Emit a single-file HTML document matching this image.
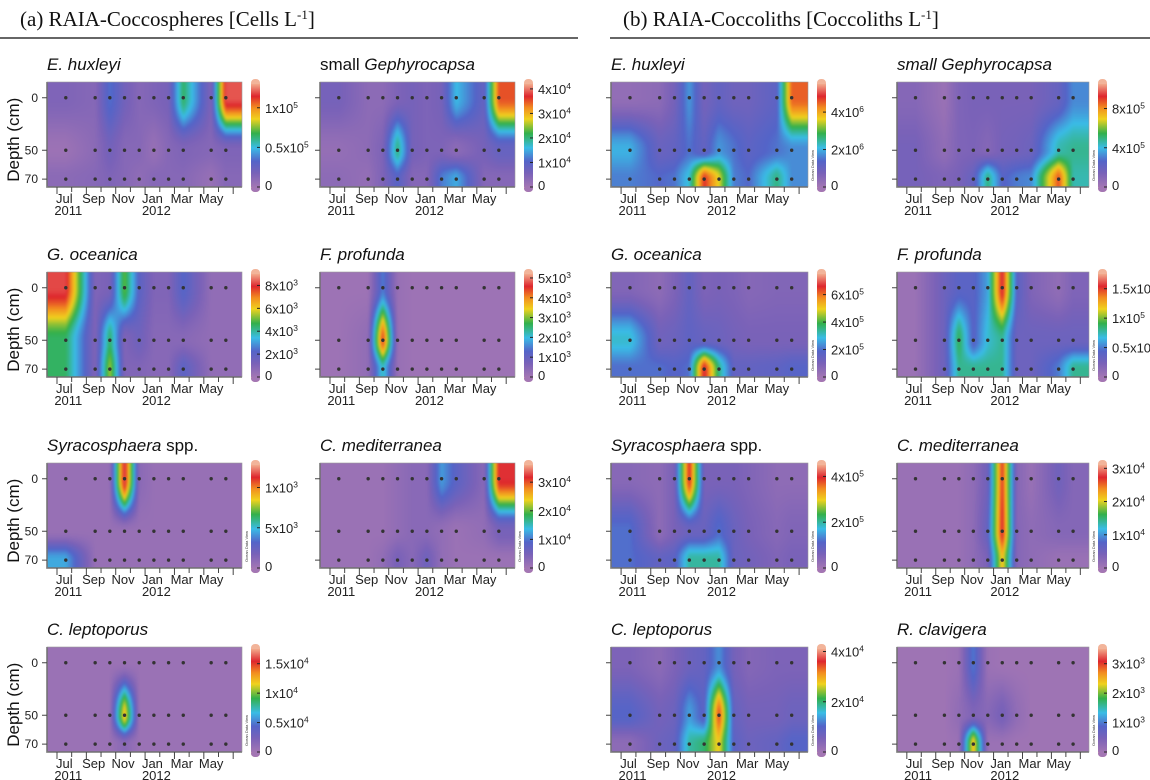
<!DOCTYPE html>
<html><head><meta charset="utf-8">
<style>
html,body{margin:0;padding:0;background:#fff;}
#root{position:relative;width:1150px;height:780px;overflow:hidden;background:#fff;font-family:"Liberation Sans",sans-serif;}
canvas{position:absolute;}
svg{position:absolute;left:0;top:0;}
</style></head>
<body>
<div id="root">
<svg id="ov" width="1150" height="780"></svg>
</div>
<script>
// ---- shared axes data ----
const sampleTimes = [0.6, 2.6, 3.6, 4.6, 5.6, 6.6, 7.6, 8.6, 10.5, 11.5];
const depthLevels = [0, 50, 70];
const monthLabels = ["Jul","Sep","Nov","Jan","Mar","May"];
const monthLabelTimes = [0.5, 2.5, 4.5, 6.5, 8.5, 10.5];
const yearLabels = ["2011","2012"];
const yearLabelTimes = [0.5, 6.5];

// ---- panel series (rows: depth 0, 50, 70) ----
const a1_d0 = [0.15,0.12,0.35,0.2,0.12,0.15,0.18,0.65,0.15,1.2];
const a1_d50 = [0.03,0.1,0.2,0.12,0.12,0.05,0.12,0.15,0.12,0.15];
const a1_d70 = [0.1,0.12,0.15,0.12,0.08,0.12,0.12,0.12,0.05,0.12];
const a1_ticks = [0,0.5,1]; const a1_labels = ["0","0.5x10^5","1x10^5"];

const a2_d0 = [0.6,0.3,0.3,0.5,0.6,0.5,0.6,1.6,0.8,3.5];
const a2_d50 = [0.2,0.3,0.5,2.0,0.6,0.5,0.5,0.3,0.6,0.8];
const a2_d70 = [0.3,0.2,0.5,1.0,0.4,0.4,1.2,1.5,0.4,0.4];
const a2_ticks = [0,1,2,3,4]; const a2_labels = ["0","1x10^4","2x10^4","3x10^4","4x10^4"];

const b1_d0 = [0.3,0.4,0.8,1.8,0.8,1.1,0.9,0.9,1.2,4.5];
const b1_d50 = [2.0,1.0,1.1,1.5,1.1,1.8,1.5,1.2,1.5,1.7];
const b1_d70 = [1.6,1.4,1.5,2.2,4.8,3.6,1.6,1.4,2.6,1.7];
const b1_ticks = [0,2,4]; const b1_labels = ["0","2x10^6","4x10^6"];

const b2_d0 = [1.0,0.3,1.2,1.4,1.4,1.4,1.4,1.4,2.0,3.2];
const b2_d50 = [1.5,0.6,1.2,1.3,1.0,1.5,1.6,1.8,4.5,4.8];
const b2_d70 = [1.5,1.2,1.4,2.0,5.0,2.5,3.0,3.2,8.8,4.5];
const b2_ticks = [0,4,8]; const b2_labels = ["0","4x10^5","8x10^5"];

const a3_d0 = [8.2,1.0,1.2,5.0,2.0,1.0,1.0,2.2,0.5,0.5];
const a3_d50 = [4.5,1.0,4.5,1.0,1.5,0.8,0.8,0.8,0.5,0.5];
const a3_d70 = [4.5,1.0,5.5,1.0,1.0,0.8,0.8,2.0,0.5,0.5];
const a3_ticks = [0,2,4,6,8]; const a3_labels = ["0","2x10^3","4x10^3","6x10^3","8x10^3"];

const a4_d0 = [0.1,0.1,1.5,0.2,0.1,0.1,0.1,0.1,0.1,0.1];
const a4_d50 = [0.1,0.3,4.5,0.2,0.1,0.1,0.1,0.1,0.1,0.1];
const a4_d70 = [0.1,0.3,2.2,0.2,0.1,0.1,0.1,0.1,0.1,0.1];
const a4_ticks = [0,1,2,3,4,5]; const a4_labels = ["0","1x10^3","2x10^3","3x10^3","4x10^3","5x10^3"];

const b3_d0 = [0.8,0.5,0.9,1.5,0.9,1.0,0.9,0.7,0.8,0.8];
const b3_d50 = [3.0,1.2,1.3,1.6,1.4,1.3,1.1,1.0,1.0,1.0];
const b3_d70 = [2.0,2.0,1.8,2.0,6.8,3.5,1.5,1.5,1.6,1.8];
const b3_ticks = [0,2,4,6]; const b3_labels = ["0","2x10^5","4x10^5","6x10^5"];

const b4_d0 = [0.05,0.3,0.4,0.4,0.6,1.6,0.4,0.2,0.1,0.2];
const b4_d50 = [0.05,0.3,0.9,0.4,0.7,0.8,0.3,0.3,0.3,0.3];
const b4_d70 = [0.05,0.3,0.8,0.8,0.8,0.8,0.3,0.3,0.5,0.8];
const b4_ticks = [0,0.5,1,1.5]; const b4_labels = ["0","0.5x10^5","1x10^5","1.5x10^5"];

const a5_d0 = [0.05,0.05,0.05,1.2,0.1,0.05,0.05,0.05,0.05,0.05];
const a5_d50 = [0.05,0.05,0.05,0.05,0.05,0.05,0.05,0.05,0.05,0.05];
const a5_d70 = [0.45,0.05,0.05,0.05,0.05,0.05,0.05,0.05,0.05,0.05];
const a5_ticks = [0,0.5,1]; const a5_labels = ["0","5x10^3","1x10^3"];

const a6_d0 = [0.1,0.1,0.1,0.2,0.3,0.3,1.2,0.8,0.3,3.2];
const a6_d50 = [0.1,0.1,0.1,0.2,0.3,0.3,0.2,0.1,0.2,0.5];
const a6_d70 = [0.1,0.1,0.2,0.5,0.3,0.6,0.2,0.1,0.1,0.1];
const a6_ticks = [0,1,2,3]; const a6_labels = ["0","1x10^4","2x10^4","3x10^4"];

const b5_d0 = [0.4,0.3,0.6,4.0,0.6,0.6,0.6,0.5,0.3,0.3];
const b5_d50 = [1.2,0.3,0.6,0.8,0.8,1.2,0.8,0.6,0.4,0.5];
const b5_d70 = [1.2,0.9,1.0,2.0,2.0,2.0,0.8,0.7,0.5,0.6];
const b5_ticks = [0,2,4]; const b5_labels = ["0","2x10^5","4x10^5"];

const b6_d0 = [0.1,0.1,0.1,0.2,0.5,2.7,0.3,0.1,0.5,0.3];
const b6_d50 = [0.1,0.1,0.1,0.2,0.6,2.8,0.3,0.2,0.3,0.3];
const b6_d70 = [0.1,0.1,0.1,0.2,0.4,2.2,0.3,0.2,0.1,0.1];
const b6_ticks = [0,1,2,3]; const b6_labels = ["0","1x10^4","2x10^4","3x10^4"];

const a7_d0 = [0.05,0.05,0.05,0.05,0.05,0.05,0.05,0.05,0.05,0.05];
const a7_d50 = [0.05,0.05,0.05,1.25,0.05,0.05,0.05,0.05,0.05,0.05];
const a7_d70 = [0.05,0.05,0.05,0.15,0.05,0.05,0.05,0.05,0.05,0.05];
const a7_ticks = [0,0.5,1,1.5]; const a7_labels = ["0","0.5x10^4","1x10^4","1.5x10^4"];

const b7_d0 = [0.5,0.3,0.5,0.7,0.8,1.3,0.6,0.4,0.5,0.5];
const b7_d50 = [1.0,0.6,0.7,1.4,0.9,3.5,0.8,0.6,0.6,0.7];
const b7_d70 = [0.3,0.7,0.8,1.8,2.0,2.8,0.9,0.7,0.8,1.0];
const b7_ticks = [0,2,4]; const b7_labels = ["0","2x10^4","4x10^4"];

const b8_d0 = [0.05,0.05,0.1,1.0,0.1,0.05,0.05,0.05,0.05,0.05];
const b8_d50 = [0.05,0.05,0.2,0.4,0.3,0.5,0.2,0.05,0.05,0.05];
const b8_d70 = [0.05,0.05,0.1,2.5,0.1,0.1,0.05,0.05,0.05,0.05];
const b8_ticks = [1,2,3,0]; const b8_labels = ["1x10^3","2x10^3","3x10^3","0"];

// ---- layout (not data) ----
const X = {A1:47, A2:320, B1:611, B2:897};
const W = {A1:195, A2:195, B1:197, B2:192};
const Y = [82, 272, 463, 647];
const H = 105;
const panels = [
 {id:"a-ehuxleyi", col:"A1", row:0, title:'<tspan font-style="italic">E. huxleyi</tspan>', rows:[a1_d0,a1_d50,a1_d70], vmax:1.3, ticks:a1_ticks, labels:a1_labels, depth:true},
 {id:"a-small-gephyrocapsa", col:"A2", row:0, title:'small <tspan font-style="italic">Gephyrocapsa</tspan>', rows:[a2_d0,a2_d50,a2_d70], vmax:4.2, ticks:a2_ticks, labels:a2_labels},
 {id:"b-ehuxleyi", col:"B1", row:0, title:'<tspan font-style="italic">E. huxleyi</tspan>', rows:[b1_d0,b1_d50,b1_d70], vmax:5.5, ticks:b1_ticks, labels:b1_labels},
 {id:"b-small-gephyrocapsa", col:"B2", row:0, title:'<tspan font-style="italic">small Gephyrocapsa</tspan>', rows:[b2_d0,b2_d50,b2_d70], vmax:10.5, ticks:b2_ticks, labels:b2_labels},
 {id:"a-goceanica", col:"A1", row:1, title:'<tspan font-style="italic">G. oceanica</tspan>', rows:[a3_d0,a3_d50,a3_d70], vmax:9, ticks:a3_ticks, labels:a3_labels, depth:true},
 {id:"a-fprofunda", col:"A2", row:1, title:'<tspan font-style="italic">F. profunda</tspan>', rows:[a4_d0,a4_d50,a4_d70], vmax:5.2, ticks:a4_ticks, labels:a4_labels},
 {id:"b-goceanica", col:"B1", row:1, title:'<tspan font-style="italic">G. oceanica</tspan>', rows:[b3_d0,b3_d50,b3_d70], vmax:7.5, ticks:b3_ticks, labels:b3_labels},
 {id:"b-fprofunda", col:"B2", row:1, title:'<tspan font-style="italic">F. profunda</tspan>', rows:[b4_d0,b4_d50,b4_d70], vmax:1.75, ticks:b4_ticks, labels:b4_labels},
 {id:"a-syracosphaera", col:"A1", row:2, title:'<tspan font-style="italic">Syracosphaera</tspan> spp.', rows:[a5_d0,a5_d50,a5_d70], vmax:1.28, ticks:a5_ticks, labels:a5_labels, depth:true},
 {id:"a-cmediterranea", col:"A2", row:2, title:'<tspan font-style="italic">C. mediterranea</tspan>', rows:[a6_d0,a6_d50,a6_d70], vmax:3.6, ticks:a6_ticks, labels:a6_labels},
 {id:"b-syracosphaera", col:"B1", row:2, title:'<tspan font-style="italic">Syracosphaera</tspan> spp.', rows:[b5_d0,b5_d50,b5_d70], vmax:4.5, ticks:b5_ticks, labels:b5_labels},
 {id:"b-cmediterranea", col:"B2", row:2, title:'<tspan font-style="italic">C. mediterranea</tspan>', rows:[b6_d0,b6_d50,b6_d70], vmax:3.1, ticks:b6_ticks, labels:b6_labels},
 {id:"a-cleptoporus", col:"A1", row:3, title:'<tspan font-style="italic">C. leptoporus</tspan>', rows:[a7_d0,a7_d50,a7_d70], vmax:1.75, ticks:a7_ticks, labels:a7_labels, depth:true},
 {id:"b-cleptoporus", col:"B1", row:3, title:'<tspan font-style="italic">C. leptoporus</tspan>', rows:[b7_d0,b7_d50,b7_d70], vmax:4.1, ticks:b7_ticks, labels:b7_labels},
 {id:"b-rclavigera", col:"B2", row:3, title:'<tspan font-style="italic">R. clavigera</tspan>', rows:[b8_d0,b8_d50,b8_d70], vmax:3.5, ticks:b8_ticks, labels:b8_labels}
];

const T_MIN = -0.68, T_MAX = 12.6;
const DEPTH_FRAC = [0.15, 0.65, 0.925];
const stops = [[0,[163,118,180]],[0.13,[122,98,184]],[0.25,[84,100,200]],[0.38,[58,188,230]],[0.52,[50,176,76]],[0.66,[240,210,30]],[0.77,[242,140,32]],[0.88,[222,38,45]],[1,[242,170,140]]];
function cmap(f){
  f=Math.max(0,Math.min(1,f));
  for(let i=1;i<stops.length;i++){
    if(f<=stops[i][0]){
      const a=stops[i-1],b=stops[i],u=(f-a[0])/(b[0]-a[0]);
      return [0,1,2].map(k=>Math.round(a[1][k]+(b[1][k]-a[1][k])*u));
    }
  }
  return stops[stops.length-1][1];
}
function smooth(u){return u*u*(3-2*u);}
function interp1(xs, vs, x, shape){
  if(x<=xs[0]) return vs[0];
  if(x>=xs[xs.length-1]) return vs[vs.length-1];
  for(let i=1;i<xs.length;i++){
    if(x<=xs[i]){let u=(x-xs[i-1])/(xs[i]-xs[i-1]); if(shape) u=shape(u); return vs[i-1]+(vs[i]-vs[i-1])*u;}
  }
}
function xScale(p,t){return p.x+(t-T_MIN)/(T_MAX-T_MIN)*p.w;}
function tInv(p,px){return T_MIN+px/p.w*(T_MAX-T_MIN);}
function yScale(p,d){return p.y+interp1(depthLevels,DEPTH_FRAC,d)*p.h;}

const NS="http://www.w3.org/2000/svg";
const ov=document.getElementById('ov');
const root=document.getElementById('root');
function el(tag,attrs,parent){const e=document.createElementNS(NS,tag);for(const k in attrs)e.setAttribute(k,attrs[k]);(parent||ov).appendChild(e);return e;}

const defs=el('defs',{});
const lg=el('linearGradient',{id:'cbg',x1:0,y1:1,x2:0,y2:0},defs);
stops.forEach(s=>{el('stop',{offset:s[0],'stop-color':'rgb('+s[1].join(',')+')'},lg);});

function header(x,y,txt,name){
  const t=el('text',{x:x,y:y,'font-family':'"Liberation Serif",serif','font-size':21,fill:'#111'});
  
  
  t.innerHTML=txt;
}
header(20,26,'(a)  RAIA-Coccospheres [Cells L<tspan font-size="13" dy="-7">-1</tspan><tspan dy="7">]</tspan>','header-a');
header(623,26,'(b)  RAIA-Coccoliths [Coccoliths L<tspan font-size="13" dy="-7">-1</tspan><tspan dy="7">]</tspan>','header-b');
const l1=el('line',{x1:0,y1:38,x2:578,y2:38,stroke:'#333','stroke-width':1.6});


const l2=el('line',{x1:610,y1:38,x2:1150,y2:38,stroke:'#333','stroke-width':1.6});



function labelText(g,x,y,s,size,anchor){
  const t=el('text',{x:x,y:y,'font-size':size,fill:'#222','text-anchor':anchor||'start'},g);
  const m=s.split('^');
  if(m.length>1){t.innerHTML=m[0]+'<tspan font-size="'+(size*0.65)+'" dy="-5">'+m[1]+'</tspan>';}
  else t.textContent=s;
  return t;
}

panels.forEach(p=>{
  p.x=X[p.col]; p.w=W[p.col]; p.y=Y[p.row]; p.h=H;
  const c=document.createElement('canvas');
  c.width=p.w; c.height=p.h;
  c.style.left=p.x+'px'; c.style.top=p.y+'px';
  
  
  root.insertBefore(c, ov);
  const ctx=c.getContext('2d');
  const off=document.createElement('canvas');
  const pad=8;
  off.width=p.w+2*pad; off.height=p.h+2*pad;
  const octx=off.getContext('2d');
  const img=octx.createImageData(off.width,off.height);
  const colVals=[];
  for(let px=0;px<off.width;px++){
    const t=tInv(p,px-pad+0.5);
    colVals.push(p.rows.map(r=>interp1(sampleTimes,r,t)));
  }
  for(let py=0;py<off.height;py++){
    const f=(py-pad+0.5)/p.h;
    for(let px=0;px<off.width;px++){
      const v=interp1(DEPTH_FRAC,colVals[px],f,smooth);
      const col=cmap(v/p.vmax);
      const i=(py*off.width+px)*4;
      img.data[i]=col[0];img.data[i+1]=col[1];img.data[i+2]=col[2];img.data[i+3]=255;
    }
  }
  octx.putImageData(img,0,0);
  ctx.filter='blur(1.2px)';
  ctx.drawImage(off,-pad,-pad);
  ctx.filter='none';

  const g=el('g',{'font-family':'"Liberation Sans",sans-serif'});
  
  
  const tt=el('text',{x:p.x,y:p.y-12,'font-size':17,fill:'#111'},g);
  
  
  tt.innerHTML=p.title;
  p.rows.forEach((r,ri)=>{
    sampleTimes.forEach(t=>{
      const d=el('circle',{cx:xScale(p,t),cy:yScale(p,depthLevels[ri]),r:1.7,fill:'#333'},g);
      
      
    });
  });
  const ax=el('path',{d:'M'+p.x+','+p.y+' V'+(p.y+p.h)+' H'+(p.x+p.w),stroke:'#555','stroke-width':1.5,fill:'none'},g);
  
  
  el('rect',{x:p.x,y:p.y,width:p.w,height:p.h,fill:'none',stroke:'#999','stroke-width':0.6},g);
  for(let m=0;m<=12;m++){
    const tx=xScale(p,m);
    el('line',{x1:tx,y1:p.y+p.h,x2:tx,y2:p.y+p.h+(m%2===0?7:5),stroke:'#444','stroke-width':1},g);
  }
  monthLabels.forEach((ml,i)=>{
    const t=el('text',{x:xScale(p,monthLabelTimes[i]),y:p.y+p.h+16,'font-size':13,fill:'#222','text-anchor':'middle'},g);
    
    
    t.textContent=ml;
  });
  yearLabels.forEach((yl,i)=>{
    const t=el('text',{x:xScale(p,yearLabelTimes[i])+4,y:p.y+p.h+28,'font-size':13,fill:'#222','text-anchor':'middle'},g);
    
    
    t.textContent=yl;
  });
  depthLevels.forEach(dv=>{
    const yy=yScale(p,dv);
    el('line',{x1:p.x-5,y1:yy,x2:p.x,y2:yy,stroke:'#444','stroke-width':1},g);
    if(p.depth){
      const t=el('text',{x:p.x-9,y:yy+4,'font-size':12,fill:'#222','text-anchor':'end'},g);
      
      
      t.textContent=String(dv);
    }
  });
  if(p.depth){
    const cy=p.y+p.h*0.55;
    const t=el('text',{x:0,y:0,'font-size':17,fill:'#111','text-anchor':'middle',transform:'translate(19,'+cy+') rotate(-90)'},g);
    
    
    t.textContent='Depth (cm)';
  }
  const cbx=p.x+p.w+9, cby=p.y+2, cbh=p.h-2, cbw=9;
  el('rect',{x:cbx,y:cby-5,width:cbw,height:cbh+10,rx:4,fill:'#f2b49a'},g);
  el('rect',{x:cbx,y:cby+cbh-2,width:cbw,height:7,rx:4,fill:'rgb(163,118,180)'},g);
  const cb=el('rect',{x:cbx,y:cby,width:cbw,height:cbh,fill:'url(#cbg)'},g);
  
  
  p.ticks.forEach((tv,i)=>{
    const yy=cby+cbh-(tv/p.vmax)*cbh;
    el('line',{x1:cbx+cbw-3,y1:yy,x2:cbx+cbw,y2:yy,stroke:'#222','stroke-width':1},g);
    const t=labelText(g,cbx+cbw+5,yy+(tv===0?3:5),p.labels[i],13);
    
    
  });
  if(p.col[0]==='B' || p.row>=2){
    const t=el('text',{x:0,y:0,'font-size':4,fill:'#333',transform:'translate('+(cbx-3)+','+(p.y+p.h-6)+') rotate(-90)'},g);
    
    
    t.textContent='Ocean Data View';
  }
});
</script>
</body></html>
